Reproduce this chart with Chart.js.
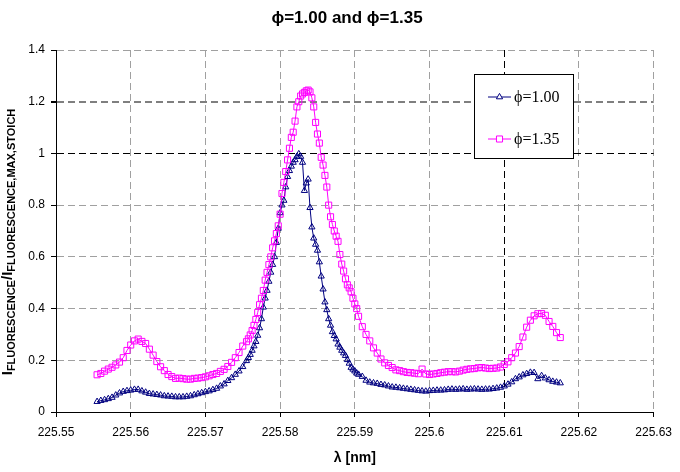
<!DOCTYPE html>
<html>
<head>
<meta charset="utf-8">
<script src="https://cdn.jsdelivr.net/npm/chart.js@4.4.0/dist/chart.umd.min.js"></script>
<style>
  html, body { margin: 0; padding: 0; background: #fff; }
  #wrap { width: 680px; height: 472px; }
</style>
</head>
<body>
<div id="wrap"><canvas id="myChart" width="680" height="472"></canvas></div>
<script>
// wavelength [nm]
const lambda = [
  225.5555,225.556,225.5565,225.557,225.5575,225.558,225.5585,225.559,225.5595,225.56,
  225.5605,225.561,225.5615,225.562,225.5625,225.563,225.5635,225.564,225.5645,225.565,
  225.5655,225.566,225.5665,225.567,225.5675,225.568,225.5685,225.569,225.5695,225.57,
  225.5705,225.571,225.5715,225.572,225.5725,225.573,225.5735,225.574,225.5745,225.575,
  225.5755,225.57575,225.576,225.57625,225.5765,225.57675,225.577,225.57725,225.5775,225.57775,
  225.578,225.57825,225.5785,225.57875,225.579,225.57925,225.5795,225.57975,225.58,225.58025,
  225.5805,225.58075,225.581,225.58125,225.5815,225.58175,225.582,225.58225,225.5825,225.58275,
  225.583,225.58325,225.5835,225.58375,225.584,225.58425,225.5845,225.58475,225.585,225.58525,
  225.5855,225.58575,225.586,225.58625,225.5865,225.58675,225.587,225.58725,225.5875,225.58775,
  225.588,225.58825,225.5885,225.58875,225.589,225.58925,225.5895,225.58975,225.59,225.59025,
  225.5905,
  225.591,225.5915,225.592,225.5925,225.593,225.5935,225.594,225.5945,225.595,225.5955,
  225.596,225.5965,225.597,225.5975,225.598,225.5985,225.599,225.5995,225.6,225.6005,
  225.601,225.6015,225.602,225.6025,225.603,225.6035,225.604,225.6045,225.605,225.6055,
  225.606,225.6065,225.607,225.6075,225.608,225.6085,225.609,225.6095,225.61,225.6105,
  225.611,225.6115,225.612,225.6125,225.613,225.6135,225.614,225.6145,225.615,225.6155,
  225.616,225.6165,225.617,225.6175
];

// phi = 1.00
const phi100 = [
  0.040,0.044,0.047,0.051,0.056,0.065,0.073,0.079,0.082,0.084,
  0.087,0.087,0.081,0.076,0.071,0.069,0.067,0.065,0.062,0.061,
  0.060,0.058,0.058,0.058,0.060,0.062,0.066,0.070,0.074,0.078,
  0.081,0.086,0.091,0.100,0.108,0.121,0.132,0.145,0.158,0.175,
  0.198,0.210,0.222,0.238,0.255,0.272,0.296,0.325,0.360,0.405,
  0.440,0.470,0.505,0.540,0.570,0.600,0.655,0.710,0.770,0.800,
  0.818,0.870,0.910,0.933,0.950,0.965,0.975,0.988,0.998,0.988,
  0.965,0.856,0.885,0.900,0.790,0.715,0.672,0.648,0.625,0.580,
  0.525,0.475,0.425,0.395,0.360,0.335,0.310,0.295,0.282,0.262,
  0.250,0.238,0.228,0.218,0.202,0.188,0.172,0.165,0.158,0.150,
  0.145,
  0.137,0.122,0.115,0.112,0.110,0.106,0.104,0.100,0.096,0.095,
  0.093,0.091,0.089,0.087,0.085,0.083,0.081,0.080,0.082,0.083,
  0.084,0.084,0.085,0.087,0.088,0.087,0.088,0.089,0.087,0.088,
  0.089,0.088,0.087,0.088,0.088,0.090,0.092,0.095,0.100,0.107,
  0.116,0.128,0.135,0.143,0.148,0.153,0.152,0.128,0.140,0.131,
  0.124,0.118,0.115,0.112
];

// phi = 1.35
const phi135 = [
  0.144,0.149,0.158,0.166,0.173,0.182,0.193,0.210,0.238,0.259,
  0.275,0.282,0.273,0.265,0.243,0.220,0.195,0.175,0.160,0.145,
  0.137,0.130,0.131,0.129,0.127,0.127,0.130,0.131,0.133,0.136,
  0.140,0.145,0.149,0.157,0.165,0.176,0.192,0.210,0.230,0.255,
  0.272,0.283,0.298,0.315,0.335,0.358,0.385,0.415,0.440,0.470,
  0.510,0.540,0.570,0.600,0.635,0.662,0.690,0.720,0.765,0.845,
  0.888,0.930,0.975,1.020,1.062,1.082,1.125,1.180,1.200,1.222,
  1.230,1.236,1.242,1.245,1.238,1.215,1.180,1.120,1.075,1.040,
  0.985,0.955,0.915,0.870,0.800,0.755,0.725,0.700,0.680,0.660,
  0.609,0.572,0.545,0.515,0.492,0.480,0.465,0.440,0.418,0.400,
  0.370,
  0.330,0.300,0.275,0.248,0.228,0.205,0.190,0.180,0.172,0.163,
  0.160,0.156,0.153,0.152,0.150,0.148,0.166,0.147,0.145,0.147,
  0.149,0.152,0.154,0.156,0.156,0.155,0.158,0.162,0.165,0.167,
  0.168,0.171,0.172,0.170,0.168,0.169,0.170,0.174,0.184,0.194,
  0.210,0.228,0.253,0.290,0.328,0.355,0.372,0.380,0.381,0.374,
  0.350,0.331,0.307,0.288
];

const seriesNames = ['\u03d5=1.00', '\u03d5=1.35'];
const xTicks = [225.55, 225.56, 225.57, 225.58, 225.59, 225.6, 225.61, 225.62, 225.63];
const xTickLabels = ['225.55', '225.56', '225.57', '225.58', '225.59', '225.6', '225.61', '225.62', '225.63'];
const yTicks = [0, 0.2, 0.4, 0.6, 0.8, 1, 1.2, 1.4];
const yTickLabels = ['0', '0.2', '0.4', '0.6', '0.8', '1', '1.2', '1.4'];

const chartTitle = '\u03d5=1.00 and \u03d5=1.35';
const xTitle = '\u03bb [nm]';
const yTitle = [['I', false], ['FLUORESCENCE', true], ['/I', false], ['FLUORESCENCE,MAX,STOICH', true]];

const SANS = '"Liberation Sans", Arial, sans-serif';
const SERIF = '"Liberation Serif", "Times New Roman", serif';
const NAVY = '#000080';
const PINK = '#ff00ff';
const GRID = '#a0a0a0';

function pts(ys) {
  return lambda.map(function (x, i) { return { x: x, y: ys[i] }; });
}

function marker(ctx, style, x, y, r) {
  ctx.beginPath();
  if (style === 'triangle') {
    ctx.moveTo(x, y - r);
    ctx.lineTo(x + r * 0.866, y + r * 0.5);
    ctx.lineTo(x - r * 0.866, y + r * 0.5);
    ctx.closePath();
  } else {
    const s = r * Math.SQRT1_2;
    ctx.rect(x - s, y - s, 2 * s, 2 * s);
  }
  ctx.fill();
  ctx.stroke();
}

// title, rotated y title with subscripts, legend box
const extras = {
  id: 'extras',
  afterDraw(chart) {
    const ctx = chart.ctx;
    ctx.save();
    ctx.fillStyle = '#000';

    ctx.font = 'bold 17px ' + SANS;
    ctx.textAlign = 'center';
    ctx.textBaseline = 'middle';
    ctx.fillText(chartTitle, 347, 18);

    // y axis title
    ctx.save();
    ctx.translate(12, 242);
    ctx.rotate(-Math.PI / 2);
    ctx.textAlign = 'left';
    ctx.textBaseline = 'alphabetic';
    let total = 0;
    yTitle.forEach(function (p) {
      ctx.font = 'bold ' + (p[1] ? 11 : 15) + 'px ' + SANS;
      total += ctx.measureText(p[0]).width;
    });
    let x = -total / 2;
    yTitle.forEach(function (p) {
      ctx.font = 'bold ' + (p[1] ? 11 : 15) + 'px ' + SANS;
      ctx.fillText(p[0], x, p[1] ? 3 : 0);
      x += ctx.measureText(p[0]).width;
    });
    ctx.restore();

    // legend
    const bx = 474, by = 74, bw = 99, bh = 84;
    ctx.fillStyle = '#fff';
    ctx.fillRect(bx, by, bw, bh);
    ctx.strokeStyle = '#000';
    ctx.lineWidth = 1;
    ctx.strokeRect(bx + 0.5, by + 0.5, bw, bh);
    chart.data.datasets.forEach(function (ds, i) {
      const ly = 97 + i * 42;
      ctx.strokeStyle = ds.borderColor;
      ctx.lineWidth = 1;
      ctx.beginPath();
      ctx.moveTo(488, ly);
      ctx.lineTo(511, ly);
      ctx.stroke();
      ctx.fillStyle = '#fff';
      marker(ctx, ds.pointStyle, 499.5, ly, ds.pointRadius);
      ctx.fillStyle = '#000';
      ctx.font = '16px ' + SERIF;
      ctx.textAlign = 'left';
      ctx.textBaseline = 'middle';
      ctx.fillText(ds.label, 514, ly + 1);
    });
    ctx.restore();
  }
};

const ctx = document.getElementById('myChart');
const myChart = new Chart(ctx, {
  type: 'line',
  data: {
    datasets: [{
      label: seriesNames[0],
      data: pts(phi100),
      borderColor: NAVY,
      borderWidth: 1,
      pointStyle: 'triangle',
      pointRadius: 3.6,
      pointBorderColor: NAVY,
      pointBackgroundColor: 'rgba(0,0,0,0)',
      pointBorderWidth: 1,
      tension: 0,
      order: 1
    }, {
      label: seriesNames[1],
      data: pts(phi135),
      borderColor: PINK,
      borderWidth: 1,
      pointStyle: 'rect',
      pointRadius: 4.3,
      pointBorderColor: PINK,
      pointBackgroundColor: 'rgba(0,0,0,0)',
      pointBorderWidth: 1,
      tension: 0,
      order: 0
    }]
  },
  options: {
    responsive: false,
    animation: false,
    devicePixelRatio: 1,
    layout: { padding: { top: 50, right: 20, bottom: 0, left: 0 } },
    plugins: {
      legend: { display: false },
      title: { display: false },
      tooltip: { enabled: false }
    },
    scales: {
      x: {
        type: 'linear',
        min: 225.55,
        max: 225.63,
        afterBuildTicks: function (scale) { scale.ticks = xTicks.map(function (v) { return { value: v }; }); },
        afterFit: function (scale) { scale.height = 60; },
        ticks: {
          color: '#000',
          font: { size: 12, family: SANS },
          padding: 8,
          maxRotation: 0,
          autoSkip: false,
          callback: function (v, i) { return xTickLabels[i]; }
        },
        grid: {
          color: function (c) { return c.tick && Math.abs(c.tick.value - 225.61) < 1e-6 ? '#000' : GRID; },
          lineWidth: 1,
          tickColor: '#000',
          tickLength: 5
        },
        border: { display: true, color: '#000', width: 1, dash: [7, 4] },
        title: {
          display: true,
          text: xTitle,
          color: '#000',
          font: { size: 14, weight: 'bold', family: SANS },
          padding: { top: 0, bottom: 5 }
        }
      },
      y: {
        min: 0,
        max: 1.4,
        afterBuildTicks: function (scale) { scale.ticks = yTicks.map(function (v) { return { value: v }; }); },
        afterFit: function (scale) { scale.width = 56; },
        ticks: {
          color: '#000',
          font: { size: 12, family: SANS },
          padding: 6,
          callback: function (v, i) { return yTickLabels[i]; }
        },
        grid: {
          color: function (c) {
            if (!c.tick) return GRID;
            if (Math.abs(c.tick.value - 1) < 1e-6) return '#000';
            if (Math.abs(c.tick.value - 1.2) < 1e-6) return '#7f7f7f';
            return GRID;
          },
          lineWidth: function (c) { return c.tick && Math.abs(c.tick.value - 1.2) < 1e-6 ? 2 : 1; },
          tickColor: '#000',
          tickLength: 5
        },
        border: { display: true, color: '#000', width: 1, dash: [7, 4] }
      }
    }
  },
  plugins: [extras]
});
</script>
</body>
</html>
